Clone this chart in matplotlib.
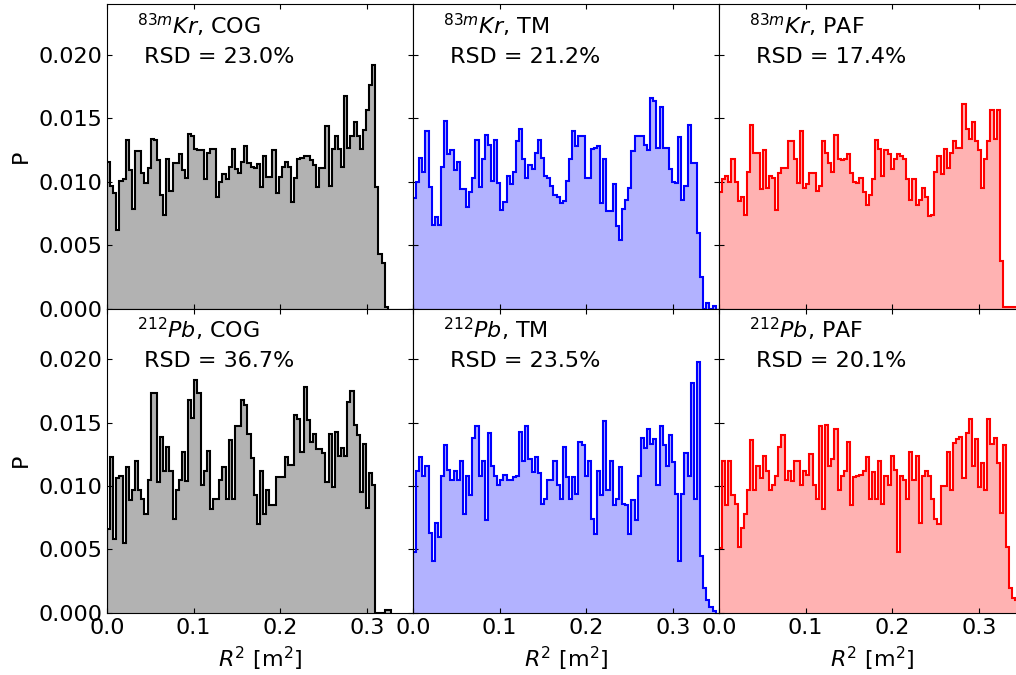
import numpy as np
import matplotlib
matplotlib.use("Agg")
import matplotlib.pyplot as plt

# P per R^2 bin, in units of 1e-3
# bins are 0.0036 m^2 wide starting at R^2 = 0
bin_w = 0.0036

kr_cog = [11.6, 9.7, 9.1, 6.2, 10.1, 10.2, 13.3, 10.9, 7.9, 12.4,
          12.4, 10.7, 9.9, 11.1, 13.4, 13.3, 11.7, 9.0, 7.4, 11.8,
          9.3, 11.5, 11.5, 12.2, 10.9, 10.3, 13.8, 13.6, 12.6, 12.5,
          12.5, 10.2, 12.3, 12.6, 12.6, 8.8, 10.0, 10.6, 10.2, 11.2,
          12.6, 11.0, 10.7, 11.6, 12.8, 11.5, 11.2, 11.1, 11.4, 9.6,
          12.0, 10.4, 10.4, 12.5, 9.1, 10.4, 11.2, 11.6, 11.2, 8.4,
          10.3, 11.8, 11.9, 12.0, 12.0, 11.7, 11.3, 9.6, 11.1, 11.1,
          14.4, 9.7, 12.6, 13.6, 12.6, 11.2, 16.8, 12.7, 13.6, 14.7,
          13.6, 12.6, 14.1, 15.7, 17.6, 19.2, 9.6, 4.3, 3.6, 0.1]

kr_tm = [8.7, 10.0, 11.9, 10.8, 14.0, 9.6, 6.6, 7.2, 6.6, 11.2,
         14.8, 12.2, 12.5, 10.9, 11.6, 9.4, 9.4, 8.0, 9.2, 10.3,
         13.3, 9.6, 11.8, 13.7, 12.9, 10.1, 13.3, 9.9, 7.8, 8.4,
         10.5, 9.8, 10.8, 13.2, 14.2, 11.8, 10.3, 11.3, 11.0, 12.3,
         13.3, 11.9, 10.5, 10.3, 9.7, 9.0, 8.8, 8.3, 8.5, 10.1,
         11.8, 14.0, 12.8, 13.6, 13.6, 10.3, 10.3, 12.6, 12.7, 12.8,
         8.3, 11.8, 7.7, 7.7, 9.8, 6.5, 5.4, 7.9, 8.6, 9.5,
         12.4, 13.6, 13.6, 13.6, 12.9, 12.5, 16.6, 16.4, 12.7, 15.9,
         12.7, 12.7, 11.0, 10.0, 9.9, 13.5, 8.6, 9.7, 14.5, 11.5,
         11.5, 6.0, 2.5, 0.0, 0.45, 0.0, 0.2]

kr_paf = [9.2, 10.2, 10.5, 10.0, 11.8, 10.0, 8.5, 8.8, 7.4, 10.8,
          14.5, 12.3, 12.3, 9.4, 12.5, 9.5, 10.5, 10.3, 7.8, 10.7,
          11.1, 11.1, 13.2, 13.2, 11.8, 9.9, 14.0, 9.5, 9.8, 10.7,
          10.7, 9.3, 9.7, 13.2, 12.3, 11.5, 10.8, 13.7, 11.8, 11.7,
          11.8, 12.2, 10.7, 10.0, 9.9, 10.3, 9.2, 8.2, 9.0, 10.2,
          13.3, 12.6, 10.5, 12.5, 12.2, 11.0, 11.8, 12.2, 12.0, 11.8,
          10.2, 8.6, 10.2, 8.2, 8.6, 9.5, 8.8, 7.3, 7.4, 10.8,
          12.0, 10.6, 12.6, 11.1, 12.3, 13.2, 12.7, 12.7, 16.1, 14.2,
          13.4, 14.7, 13.2, 12.5, 9.5, 11.8, 13.2, 15.7, 13.4, 15.7,
          3.8, 0.1, 0.1, 0.1, 0.1, 0.1]

pb_cog = [6.6, 12.3, 5.8, 10.6, 10.8, 5.5, 11.5, 8.9, 9.7, 12.0,
          9.7, 9.0, 7.8, 10.5, 17.3, 17.3, 10.3, 13.9, 11.2, 13.1,
          11.2, 7.4, 9.7, 10.5, 12.7, 10.4, 16.8, 15.4, 18.4, 17.3,
          10.1, 11.2, 12.8, 8.2, 9.0, 9.0, 10.5, 11.5, 9.0, 13.6,
          9.0, 14.7, 14.7, 16.8, 16.4, 14.1, 12.2, 9.3, 7.0, 11.2,
          7.8, 9.7, 8.5, 8.5, 10.7, 10.7, 10.7, 12.3, 11.7, 11.7,
          15.6, 15.3, 12.7, 17.8, 15.2, 13.5, 14.1, 12.9, 12.9, 12.6,
          10.3, 14.1, 9.9, 14.3, 12.4, 13.0, 12.4, 16.6, 17.5, 14.8,
          14.0, 9.5, 13.3, 8.3, 11.0, 10.1, 0.0, 0.0, 0.0, 0.25,
          0.25]

pb_tm = [4.8, 11.2, 12.3, 10.8, 11.6, 6.3, 4.1, 7.1, 6.0, 10.8,
         13.2, 11.3, 10.5, 11.2, 10.5, 12.0, 7.8, 10.8, 9.3, 13.8,
         14.7, 10.8, 12.0, 7.3, 14.2, 11.6, 10.8, 10.1, 10.5, 10.9,
         10.5, 10.5, 10.7, 10.8, 14.3, 12.0, 14.7, 12.1, 11.1, 12.3,
         11.0, 8.6, 9.0, 10.5, 10.5, 12.0, 10.1, 9.0, 13.1, 10.7,
         9.0, 10.7, 9.4, 13.5, 13.2, 10.8, 12.0, 7.4, 6.2, 11.2,
         9.3, 15.1, 9.7, 12.0, 8.5, 9.0, 11.5, 8.6, 8.5, 6.2,
         8.9, 7.3, 10.8, 13.8, 13.0, 14.5, 13.3, 13.7, 10.1, 14.7,
         13.2, 11.6, 14.0, 11.9, 9.4, 4.1, 9.4, 12.6, 10.8, 18.1,
         9.0, 19.8, 4.5, 2.0, 1.05, 0.45, 0.18]

pb_paf = [5.1, 12.0, 8.5, 12.0, 9.3, 8.6, 5.2, 6.7, 7.8, 9.7,
          13.6, 9.7, 11.6, 10.6, 12.4, 11.2, 9.7, 10.1, 10.8, 13.1,
          14.0, 10.5, 11.2, 10.4, 12.0, 12.0, 10.1, 11.2, 10.9, 12.5,
          10.1, 9.0, 14.7, 8.2, 14.8, 11.6, 12.1, 14.5, 9.7, 10.8,
          11.2, 13.5, 8.5, 10.7, 10.8, 10.9, 11.2, 12.3, 9.0, 11.1,
          9.0, 12.0, 8.6, 10.8, 10.1, 12.4, 11.3, 4.8, 10.8, 10.5,
          9.0, 12.7, 10.5, 12.4, 7.1, 10.8, 11.2, 10.8, 9.0, 7.4,
          7.0, 10.0, 10.0, 12.7, 9.7, 13.4, 13.7, 13.9, 10.6, 14.2,
          15.3, 11.6, 13.7, 9.9, 11.8, 9.7, 15.3, 13.3, 13.8, 11.8,
          7.9, 13.2, 5.2, 2.0, 1.2, 1.0, 0.5]

methods = ["COG", "TM", "PAF"]
colors = ["k", "b", "r"]
kr_rsd = ["23.0%", "21.2%", "17.4%"]
pb_rsd = ["36.7%", "23.5%", "20.1%"]

rows = [
    ("$^{83m}Kr$", [kr_cog, kr_tm, kr_paf], kr_rsd),
    ("$^{212}Pb$", [pb_cog, pb_tm, pb_paf], pb_rsd),
]

W, H = 1016, 675
fig = plt.figure(figsize=(W / 100, H / 100), dpi=100)

x_left = [107, 413, 719]
ax_w = 306
row_top = [4.3, 308.5]
row_h = 304.4

for r, (iso, series, rsds) in enumerate(rows):
    for c in range(3):
        ax = fig.add_axes([x_left[c] / W, (H - row_top[r] - row_h) / H,
                           ax_w / W, row_h / H])
        vals = np.array(series[c]) * 1e-3
        edges = np.arange(len(vals) + 1) * bin_w
        ax.hist(edges[:-1], bins=edges, weights=vals, histtype="stepfilled",
                color=colors[c], alpha=0.3, lw=0)
        ax.hist(edges[:-1], bins=edges, weights=vals, histtype="step",
                color=colors[c], lw=1.5)

        ax.set_xlim(0, 0.353)
        ax.set_ylim(0, 0.024)
        ax.set_xticks([0.0, 0.1, 0.2, 0.3])
        ax.set_yticks([0.0, 0.005, 0.010, 0.015, 0.020])
        ax.tick_params(direction="in", top=True, right=True, labelsize=16)

        if r == 1:
            ax.set_xticklabels(["0.0", "0.1", "0.2", "0.3"])
            ax.set_xlabel("$R^2$ [m$^2$]", fontsize=16, labelpad=5)
        else:
            ax.set_xticklabels([])
        if c == 0:
            ax.set_yticklabels(["0.000", "0.005", "0.010", "0.015", "0.020"])
            ax.set_ylabel("P", fontsize=16, labelpad=5)
        else:
            ax.set_yticklabels([])

        ax.text(0.098, 0.975, iso + ", " + methods[c] + "\n RSD = " + rsds[c],
                transform=ax.transAxes, ha="left", va="top", fontsize=16,
                linespacing=1.5)

fig.savefig("out.png", dpi=100)
